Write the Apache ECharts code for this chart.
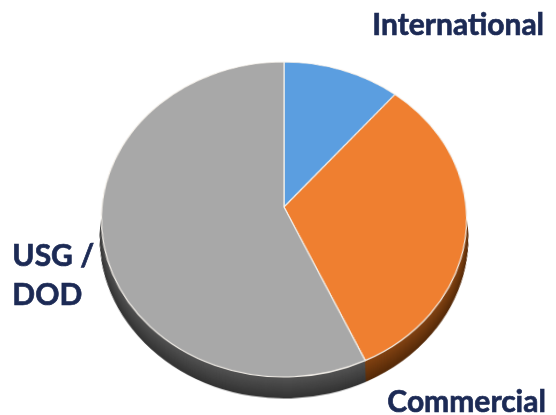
<!DOCTYPE html>
<html>
<head>
<meta charset="utf-8">
<script src="https://cdn.jsdelivr.net/npm/echarts@6/dist/echarts.min.js"></script>
<style>
  html, body { margin: 0; padding: 0; background: #ffffff; }
  #wrap {
    position: relative; width: 556px; height: 415px; overflow: hidden;
    perspective: 1171px; perspective-origin: 284px 207px;
  }
  #pie, #labels { position: absolute; left: 0; top: 0; width: 556px; height: 415px; }
  /* tip the disc back so its far edge recedes */
  #pie { transform-origin: 284px 207px; transform: rotateX(30.7deg); }
  #labels { pointer-events: none; }
  #labels text { font-variant-ligatures: none; }
</style>
</head>
<body>
<div id="wrap">
  <div id="pie"></div>
  <div id="labels"></div>
</div>
<script>
// Segments, clockwise from 12 o'clock
const categories = ['International', 'Commercial', 'USG / DOD'];
const shares = [11.2, 32.0, 56.8];

// Top-face and side colours per segment
const topColors = ['#5b9ee0', '#ef7f30', '#a8a8a8'];
const sideColorsTop = ['#3f6fa0', '#854413', '#545454'];
const sideColorsBottom = ['#2c4f75', '#552a08', '#333333'];

const CX = 284, CY = 207, R = 182;
const DEPTH = 21;          // thickness of the disc, in plane px

function mix(a, b, t) {
  const pa = parseInt(a.slice(1), 16), pb = parseInt(b.slice(1), 16);
  const r = Math.round(((pa >> 16) & 255) * (1 - t) + ((pb >> 16) & 255) * t);
  const g = Math.round(((pa >> 8) & 255) * (1 - t) + ((pb >> 8) & 255) * t);
  const bl = Math.round((pa & 255) * (1 - t) + (pb & 255) * t);
  return '#' + ((1 << 24) | (r << 16) | (g << 8) | bl).toString(16).slice(1);
}

function pieData(colors) {
  return categories.map((name, i) => ({
    name: name,
    value: shares[i],
    itemStyle: { color: colors[i] }
  }));
}

function disc(dy, colors, itemStyle) {
  return {
    type: 'pie',
    center: [CX, CY + dy],
    radius: [0, R],
    startAngle: 90,
    clockwise: true,
    silent: true,
    animation: false,
    label: { show: false },
    labelLine: { show: false },
    itemStyle: itemStyle,
    data: pieData(colors)
  };
}

const series = [];
// side wall: stacked copies of the disc, deepest first
for (let k = DEPTH; k >= 1; k--) {
  const t = k / DEPTH;
  const cols = categories.map((_, i) => mix(sideColorsTop[i], sideColorsBottom[i], t));
  series.push(disc(k, cols, { borderWidth: 0 }));
}
// top face
series.push(disc(0, topColors, { borderColor: '#f4f0ea', borderWidth: 1.2 }));

const pie = echarts.init(document.getElementById('pie'), null, { renderer: 'canvas' });
pie.setOption({ backgroundColor: 'transparent', animation: false, series: series });

// segment captions
const labelFont = 'bold 30px Lato';
const labelColor = '#1c2a55';
const labelSpots = [
  { x: 372, y: 3 },
  { x: 387, y: 380 },
  { x: 12, y: 234 }
];
const captionText = ['International', 'Commercial', 'USG /\nDOD'];

const labels = echarts.init(document.getElementById('labels'), null, { renderer: 'svg' });
labels.setOption({
  backgroundColor: 'transparent',
  animation: false,
  graphic: captionText.map((txt, i) => ({
    type: 'text',
    left: labelSpots[i].x,
    top: labelSpots[i].y,
    style: {
      text: txt,
      font: labelFont,
      fill: labelColor,
      stroke: labelColor,
      lineWidth: 0.7,
      lineHeight: 39
    }
  }))
});
</script>
</body>
</html>
